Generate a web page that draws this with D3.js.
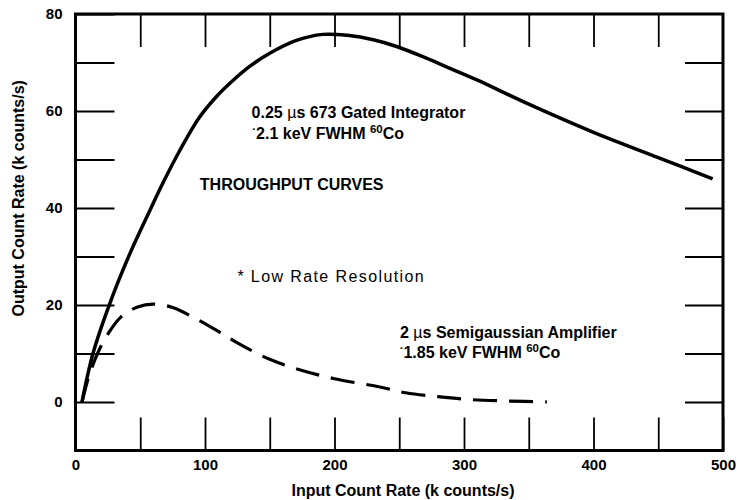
<!DOCTYPE html>
<html>
<head>
<meta charset="utf-8">
<script src="https://cdn.jsdelivr.net/npm/d3@7"></script>
<style>
  body { margin: 0; background: #fff; }
  svg { display: block; font-family: 'Liberation Sans', Arial, sans-serif; }
  .tick line { stroke: #000; stroke-width: 1.8; }
  .tick text { font-size: 15px; font-weight: bold; fill: #000; }
</style>
</head>
<body>
<div id="chart"></div>
<script>
// 673 gated integrator (solid)
const gatedRate = [5, 13.5, 26.6, 42, 57.6, 67.6, 80, 96, 110, 122, 135, 150, 170, 191, 210, 230, 248, 270, 290, 310, 350, 400, 450, 492]
const gatedOut = [0, 10, 20.4, 30.6, 39.6, 45.2, 51.6, 58.8, 63.3, 66.4, 69.3, 71.9, 74.5, 75.8, 75.6, 74.7, 73.3, 71, 68.7, 66.4, 61.4, 55.6, 50.4, 46]

// semigaussian amplifier (dashed)
const semiRate = [5, 10, 17, 25, 35, 48, 60, 75, 90, 110, 125, 150, 175, 200, 235, 255, 280, 305, 335, 364]
const semiOut = [0, 5, 10, 14, 17.5, 19.6, 20.2, 19.5, 17.6, 14.6, 12.2, 8.8, 6.5, 4.8, 3.1, 1.9, 1.1, 0.5, 0.2, 0]

const xTicks = [0, 50, 100, 150, 200, 250, 300, 350, 400, 450, 500]
const xLabels = [0, 100, 200, 300, 400, 500]
const yTicks = [0, 10, 20, 30, 40, 50, 60, 70, 80]
const yLabels = [0, 20, 40, 60, 80]

const width = 748
const height = 500

const svg = d3
  .select('#chart')
  .append('svg')
  .attr('width', width)
  .attr('height', height)

const x = d3.scaleLinear().domain([0, 500]).range([75.5, 723])
const y = d3.scaleLinear().domain([-10, 80]).range([450.5, 14])

const gated = gatedRate.map((d, i) => [d, gatedOut[i]])
const semi = semiRate.map((d, i) => [d, semiOut[i]])

// axes (ticks point inward)
svg
  .append('g')
  .attr('transform', `translate(0,${y(-10)})`)
  .call(
    d3
      .axisBottom(x)
      .tickValues(xTicks)
      .tickSize(-33)
      .tickPadding(9)
      .tickFormat(d => (xLabels.includes(d) ? d : ''))
  )

svg
  .append('g')
  .attr('transform', `translate(0,${y(80)})`)
  .call(
    d3
      .axisTop(x)
      .tickValues(xTicks.slice(1, -1))
      .tickSize(-33)
      .tickFormat('')
  )

svg
  .append('g')
  .attr('transform', `translate(${x(0)},0)`)
  .call(
    d3
      .axisLeft(y)
      .tickValues(yTicks)
      .tickSize(-39)
      .tickPadding(13)
      .tickFormat(d => (yLabels.includes(d) ? d : ''))
  )

svg
  .append('g')
  .attr('transform', `translate(${x(500)},0)`)
  .call(
    d3
      .axisRight(y)
      .tickValues(yTicks.slice(0, -1))
      .tickSize(-38)
      .tickFormat('')
  )

svg.selectAll('.domain').remove()

// frame
svg
  .append('rect')
  .attr('x', x(0))
  .attr('y', y(80))
  .attr('width', x(500) - x(0))
  .attr('height', y(-10) - y(80))
  .attr('fill', 'none')
  .attr('stroke', '#000')
  .attr('stroke-width', 3)

const line = d3
  .line()
  .x(d => x(d[0]))
  .y(d => y(d[1]))
  .curve(d3.curveCatmullRom)

svg
  .append('path')
  .datum(semi)
  .attr('d', line)
  .attr('fill', 'none')
  .attr('stroke', '#000')
  .attr('stroke-width', 3.2)
  .attr('stroke-dasharray', '24,12')

svg
  .append('path')
  .datum(gated)
  .attr('d', line)
  .attr('fill', 'none')
  .attr('stroke', '#000')
  .attr('stroke-width', 3.5)

// axis titles
svg
  .append('text')
  .attr('x', 403)
  .attr('y', 496)
  .attr('text-anchor', 'middle')
  .attr('font-size', 16)
  .attr('font-weight', 'bold')
  .text('Input Count Rate (k counts/s)')

svg
  .append('text')
  .attr('transform', `translate(24,${y(42)}) rotate(-90)`)
  .attr('text-anchor', 'middle')
  .attr('font-size', 16)
  .attr('font-weight', 'bold')
  .text('Output Count Rate (k counts/s)')

// annotations
function label(px, py, parts, size, weight) {
  const t = svg
    .append('text')
    .attr('x', x(px))
    .attr('y', y(py))
    .attr('font-size', size)
    .attr('font-weight', weight)
  parts.forEach(p => {
    const s = t.append('tspan').text(p.t)
    if (p.normal) s.attr('font-weight', 'normal')
    if (p.sup) s.attr('font-size', size * 0.72).attr('dy', -6)
    if (p.down) s.attr('dy', 6)
  })
  return t
}

label(136, 58.6, [{ t: '0.25 ' }, { t: 'µ', normal: true }, { t: 's 673 Gated Integrator' }], 16, 'bold')
label(136.5, 54.2, [{ t: '·', sup: true }, { t: '2.1 keV FWHM ', down: true }, { t: '60', sup: true }, { t: 'Co', down: true }], 16, 'bold')
label(96, 43.7, [{ t: 'THROUGHPUT CURVES' }], 16, 'bold')
label(125, 24.7, [{ t: '* Low Rate Resolution' }], 16, 'normal').attr('letter-spacing', 1.4)
label(250.6, 13.2, [{ t: '2 ' }, { t: 'µ', normal: true }, { t: 's Semigaussian Amplifier' }], 16, 'bold')
label(250.3, 9.1, [{ t: '·', sup: true }, { t: '1.85 keV FWHM ', down: true }, { t: '60', sup: true }, { t: 'Co', down: true }], 16, 'bold')
</script>
</body>
</html>
